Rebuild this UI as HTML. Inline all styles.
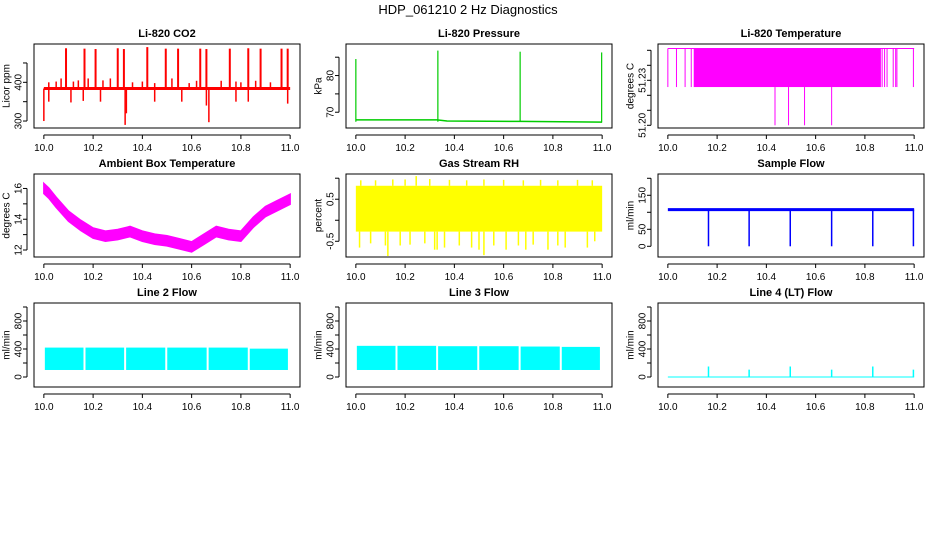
<!DOCTYPE html>
<html><head><meta charset="utf-8"><style>
body{margin:0;background:#fff;}
svg{display:block;font-family:"Liberation Sans",sans-serif;}
</style></head><body>
<svg id="chart" width="936" height="540" viewBox="0 0 936 540" xmlns="http://www.w3.org/2000/svg">
<rect width="936" height="540" fill="#fff"/>
<text x="468" y="14" text-anchor="middle" font-size="13">HDP_061210  2 Hz Diagnostics</text>
</svg>
<script>
// ---- data ----
const xTicks = [10.0, 10.2, 10.4, 10.6, 10.8, 11.0];
const xTickLabels = ["10.0", "10.2", "10.4", "10.6", "10.8", "11.0"];
const flowGaps = [10.165, 10.33, 10.497, 10.665, 10.832];

const co2Base = 384;
const co2UpX = [10.09, 10.165, 10.21, 10.30, 10.325, 10.42, 10.495, 10.545, 10.635, 10.66, 10.755, 10.83, 10.88, 10.965, 10.99];
const co2UpVal = [488, 487, 486, 488, 486, 491, 487, 487, 487, 486, 487, 488, 487, 487, 487];
const co2SmallX = [10.02, 10.05, 10.07, 10.12, 10.14, 10.18, 10.24, 10.27, 10.36, 10.40, 10.45, 10.52, 10.59, 10.62, 10.72, 10.78, 10.80, 10.86, 10.92];
const co2SmallVal = [400, 402, 410, 402, 405, 410, 405, 410, 400, 402, 398, 410, 398, 404, 404, 402, 400, 404, 400];
const co2DownX = [10.0, 10.02, 10.11, 10.16, 10.23, 10.33, 10.335, 10.45, 10.56, 10.66, 10.67, 10.78, 10.83, 10.99];
const co2DownVal = [300, 350, 348, 352, 350, 290, 320, 350, 350, 340, 297, 350, 350, 345];

const presSegX = [10.0, 10.33, 10.37, 10.67, 11.0];
const presSegVal = [67.9, 67.9, 67.6, 67.5, 67.3];
const presSpikeX = [10.0, 10.333, 10.667, 10.998];
const presSpikeVal = [84.5, 86.8, 86.5, 86.3];

const tempBandLow = 51.2255, tempBandHigh = 51.2512;
const tempDenseStart = 10.105, tempDenseEnd = 10.865;
const tempLineX = [10.0, 10.035, 10.07, 10.095, 10.87, 10.88, 10.89, 10.915, 10.925, 10.93, 10.997];
const tempDropX = [10.435, 10.49, 10.555, 10.665];
const tempDropVal = [51.2, 51.2, 51.2, 51.2];

const ambX = [10.0, 10.02, 10.05, 10.1, 10.15, 10.2, 10.25, 10.3, 10.35, 10.4, 10.45, 10.5, 10.55, 10.6, 10.65, 10.7, 10.75, 10.8, 10.85, 10.9, 10.95, 11.0];
const ambMid = [16.0, 15.7, 15.1, 14.2, 13.6, 13.1, 12.9, 13.0, 13.2, 12.9, 12.7, 12.6, 12.4, 12.2, 12.7, 13.2, 13.0, 12.9, 13.8, 14.5, 14.9, 15.3];
const ambHalf = 0.33;

const rhLow = -0.27, rhHigh = 0.82;
const rhUpX = [10.02, 10.08, 10.15, 10.2, 10.245, 10.3, 10.38, 10.45, 10.52, 10.6, 10.68, 10.75, 10.82, 10.9, 10.96];
const rhUpVal = [0.95, 0.95, 0.97, 0.97, 1.05, 0.98, 0.96, 0.95, 0.97, 0.96, 0.95, 0.96, 0.95, 0.96, 0.95];
const rhDownX = [10.015, 10.06, 10.12, 10.13, 10.18, 10.22, 10.28, 10.32, 10.33, 10.36, 10.42, 10.47, 10.5, 10.52, 10.56, 10.61, 10.66, 10.69, 10.72, 10.78, 10.82, 10.85, 10.94, 10.97];
const rhDownVal = [-0.65, -0.55, -0.6, -0.85, -0.6, -0.58, -0.55, -0.7, -0.7, -0.65, -0.6, -0.65, -0.7, -0.83, -0.6, -0.7, -0.6, -0.7, -0.58, -0.7, -0.6, -0.65, -0.65, -0.5];

const sfBase = 108;
const sfDropX = [10.165, 10.33, 10.497, 10.665, 10.832, 10.997];
const sfDropVal = [0, 0, 0, 0, 0, 0];

const l2Low = 100, l2High = [420, 420, 420, 420, 420, 405];
const l3Low = 100, l3High = [445, 445, 440, 440, 435, 430];
const l4SpikeX = [10.165, 10.33, 10.497, 10.665, 10.832, 10.997];
const l4SpikeVal = [150, 105, 150, 105, 150, 105];

// ---- layout ----
const svg = document.getElementById('chart');
const NS = 'http://www.w3.org/2000/svg';
function el(tag, attrs, parent){const e=document.createElementNS(NS,tag);for(const k in attrs)e.setAttribute(k,attrs[k]);(parent||svg).appendChild(e);return e;}

function panel(opt){
  const g = el('g',{});
  
  
  const L=opt.x0, R=opt.x1, T=opt.y0, B=opt.y1;
  const pad=(R-L)/1.08*0.04;
  const sx=v=>L+pad+(v-10)*(R-L-2*pad);
  const sy=v=>B-(v-opt.ylim[0])/(opt.ylim[1]-opt.ylim[0])*(B-T);
  const t = el('text',{x:(L+R)/2,y:T-7,'text-anchor':'middle','font-size':11,'font-weight':'bold'},g);
  t.textContent=opt.title;
  
  
  const box = el('rect',{x:L,y:T,width:R-L,height:B-T,fill:'none',stroke:'#000','stroke-width':1},g);
  
  
  const xa = el('g',{},g);
  
  
  el('line',{x1:sx(xTicks[0]),x2:sx(xTicks[xTicks.length-1]),y1:B+7,y2:B+7,stroke:'#000'},xa);
  xTicks.forEach((v,i)=>{
    el('line',{x1:sx(v),x2:sx(v),y1:B+7,y2:B+11,stroke:'#000'},xa);
    const tl=el('text',{x:sx(v),y:B+23,'text-anchor':'middle','font-size':10},xa);
    tl.textContent=xTickLabels[i];
  });
  const ya = el('g',{},g);
  
  
  const ax=L-7;
  el('line',{x1:ax,x2:ax,y1:sy(opt.yTicks[0]),y2:sy(opt.yTicks[opt.yTicks.length-1]),stroke:'#000'},ya);
  opt.yTicks.forEach((v,i)=>{
    el('line',{x1:ax,x2:ax-4,y1:sy(v),y2:sy(v),stroke:'#000'},ya);
    const lab=opt.yLabels[i];
    if(lab){const tl=el('text',{x:0,y:0,'text-anchor':'middle','dominant-baseline':'central','font-size':10,transform:`translate(${L-15},${sy(v)}) rotate(-90)`},ya);tl.textContent=lab;}
  });
  const yt=el('text',{x:0,y:0,'text-anchor':'middle','dominant-baseline':'central','font-size':10,transform:`translate(${L-27},${(T+B)/2}) rotate(-90)`},g);
  yt.textContent=opt.ylab;
  
  
  const s = el('g',{},g);
  
  
  opt.draw(s,sx,sy);
}
function vline(p,sx,sy,x,a,b,c,w){el('line',{x1:sx(x),x2:sx(x),y1:sy(a),y2:sy(b),stroke:c,'stroke-width':w||1},p);}

const cols=[[34,300],[346,612],[658,924]];
const rows=[[44,128],[174,257],[303,387]];

panel({name:'co2-panel',title:'Li-820 CO2',ylab:'Licor ppm',x0:cols[0][0],x1:cols[0][1],y0:rows[0][0],y1:rows[0][1],ylim:[282,499],
 yTicks:[300,350,400,450],yLabels:['300','','400',''],
 draw:(s,sx,sy)=>{
  co2SmallX.forEach((x,i)=>vline(s,sx,sy,x,co2Base,co2SmallVal[i],'#f00',1.5));
  co2DownX.forEach((x,i)=>vline(s,sx,sy,x,co2Base,co2DownVal[i],'#f00',1.5));
  co2UpX.forEach((x,i)=>vline(s,sx,sy,x,co2Base,co2UpVal[i],'#f00',2));
  el('line',{x1:sx(10),x2:sx(11),y1:sy(co2Base),y2:sy(co2Base),stroke:'#f00','stroke-width':3},s);
 }});

panel({name:'pressure-panel',title:'Li-820 Pressure',ylab:'kPa',x0:cols[1][0],x1:cols[1][1],y0:rows[0][0],y1:rows[0][1],ylim:[65.7,88.6],
 yTicks:[70,75,80,85],yLabels:['70','','80',''],
 draw:(s,sx,sy)=>{
  let d='';presSegX.forEach((x,i)=>{d+=(i?'L':'M')+sx(x)+' '+sy(presSegVal[i]);});
  el('path',{d:d,fill:'none',stroke:'#0c0','stroke-width':1.5},s);
  presSpikeX.forEach((x,i)=>vline(s,sx,sy,x,presSegVal[0]-0.5,presSpikeVal[i],'#0c0',1.2));
 }});

panel({name:'li820-temperature-panel',title:'Li-820 Temperature',ylab:'degrees C',x0:cols[2][0],x1:cols[2][1],y0:rows[0][0],y1:rows[0][1],ylim:[51.1982,51.2542],
 yTicks:[51.20,51.21,51.22,51.23,51.24,51.25],yLabels:['51.20','','','51.23','',''],
 draw:(s,sx,sy)=>{
  el('rect',{x:sx(tempDenseStart),y:sy(tempBandHigh),width:sx(tempDenseEnd)-sx(tempDenseStart),height:sy(tempBandLow)-sy(tempBandHigh),fill:'#f0f'},s);
  tempLineX.forEach(x=>vline(s,sx,sy,x,tempBandLow,tempBandHigh,'#f0f',1));
  el('line',{x1:sx(10),x2:sx(11),y1:sy(tempBandHigh),y2:sy(tempBandHigh),stroke:'#f0f'},s);
  tempDropX.forEach((x,i)=>vline(s,sx,sy,x,tempBandLow,tempDropVal[i],'#f0f',1));
 }});

panel({name:'ambient-temperature-panel',title:'Ambient Box Temperature',ylab:'degrees C',x0:cols[0][0],x1:cols[0][1],y0:rows[1][0],y1:rows[1][1],ylim:[11.545,16.94],
 yTicks:[12,13,14,15,16],yLabels:['12','','14','','16'],
 draw:(s,sx,sy)=>{
  let d='';ambX.forEach((x,i)=>{d+=(i?'L':'M')+sx(x)+' '+sy(ambMid[i]+ambHalf);});
  for(let i=ambX.length-1;i>=0;i--)d+='L'+sx(ambX[i])+' '+sy(ambMid[i]-ambHalf);
  el('path',{d:d+'Z',fill:'#f0f',stroke:'#f0f','stroke-width':1.5},s);
 }});

panel({name:'gas-rh-panel',title:'Gas Stream RH',ylab:'percent',x0:cols[1][0],x1:cols[1][1],y0:rows[1][0],y1:rows[1][1],ylim:[-0.874,1.10],
 yTicks:[-0.5,0,0.5,1.0],yLabels:['-0.5','','0.5',''],
 draw:(s,sx,sy)=>{
  el('rect',{x:sx(10),y:sy(rhHigh),width:sx(11)-sx(10),height:sy(rhLow)-sy(rhHigh),fill:'#ff0'},s);
  rhUpX.forEach((x,i)=>vline(s,sx,sy,x,rhHigh,rhUpVal[i],'#ff0',1.5));
  rhDownX.forEach((x,i)=>vline(s,sx,sy,x,rhLow,rhDownVal[i],'#ff0',1.5));
 }});

panel({name:'sample-flow-panel',title:'Sample Flow',ylab:'ml/min',x0:cols[2][0],x1:cols[2][1],y0:rows[1][0],y1:rows[1][1],ylim:[-31.5,212.6],
 yTicks:[0,50,100,150,200],yLabels:['0','50','','150',''],
 draw:(s,sx,sy)=>{
  el('line',{x1:sx(10),x2:sx(11),y1:sy(sfBase),y2:sy(sfBase),stroke:'#00f','stroke-width':3},s);
  sfDropX.forEach((x,i)=>vline(s,sx,sy,x,sfBase,sfDropVal[i],'#00f',1.5));
 }});

function flowBands(s,sx,sy,low,highs,color){
  const edges=[10].concat(flowGaps).concat([10.995]);
  for(let i=0;i<edges.length-1;i++){
    const a=sx(edges[i])+1,b=sx(edges[i+1])-1;
    el('rect',{x:a,y:sy(highs[i]),width:b-a,height:sy(low)-sy(highs[i]),fill:color},s);
  }
}
const flowTicks=[0,200,400,600,800,1000], flowLabels=['0','','400','','800',''];
panel({name:'line2-flow-panel',title:'Line 2 Flow',ylab:'ml/min',x0:cols[0][0],x1:cols[0][1],y0:rows[2][0],y1:rows[2][1],ylim:[-143,1057],
 yTicks:flowTicks,yLabels:flowLabels,draw:(s,sx,sy)=>flowBands(s,sx,sy,l2Low,l2High,'#0ff')});
panel({name:'line3-flow-panel',title:'Line 3 Flow',ylab:'ml/min',x0:cols[1][0],x1:cols[1][1],y0:rows[2][0],y1:rows[2][1],ylim:[-143,1057],
 yTicks:flowTicks,yLabels:flowLabels,draw:(s,sx,sy)=>flowBands(s,sx,sy,l3Low,l3High,'#0ff')});
panel({name:'line4-flow-panel',title:'Line 4 (LT) Flow',ylab:'ml/min',x0:cols[2][0],x1:cols[2][1],y0:rows[2][0],y1:rows[2][1],ylim:[-143,1057],
 yTicks:flowTicks,yLabels:flowLabels,draw:(s,sx,sy)=>{
  el('line',{x1:sx(10),x2:sx(11),y1:sy(0),y2:sy(0),stroke:'#0ff','stroke-width':1},s);
  l4SpikeX.forEach((x,i)=>vline(s,sx,sy,x,0,l4SpikeVal[i],'#0ff',1.5));
 }});
</script>
</body></html>
